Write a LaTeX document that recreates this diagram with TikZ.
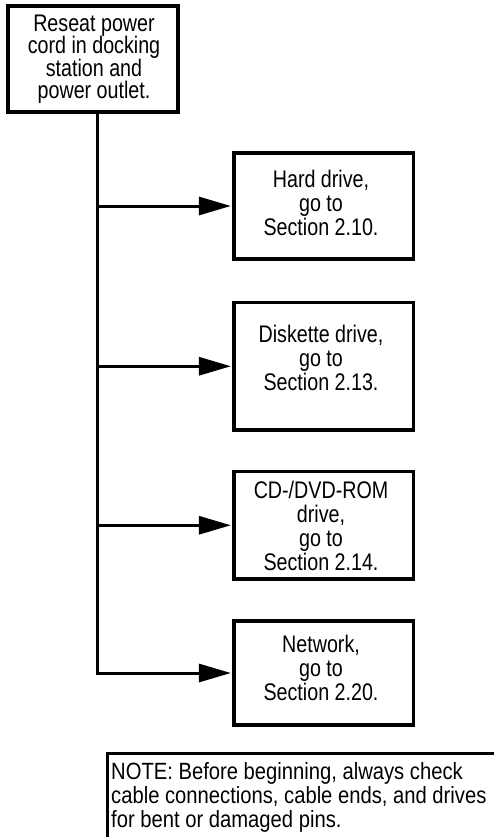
\documentclass[tikz,border=0pt]{standalone}
\usepackage{fontspec}
\setmainfont[FakeStretch=0.82]{Liberation Sans}
\newfontfamily\notefont[FakeStretch=0.86]{Liberation Sans}
\usetikzlibrary{arrows.meta}
\begin{document}
\begin{tikzpicture}[x=1pt,y=-1pt,
  box/.style={draw, line width=3.2pt, inner sep=0pt, minimum width=179.5pt},
  txt/.style={align=center, inner sep=0pt, anchor=north, font=\fontsize{24}{24}\selectfont},
  conn/.style={line width=3pt},
  arr/.style={line width=3pt, shorten >=1.5pt, -{Triangle[length=32pt,width=18pt]}}]
\useasboundingbox (0,0) rectangle (494,837);
\clip (0,0) rectangle (494,837);
% top box
\node[box, minimum width=170pt, minimum height=106pt] (start) at (93,59) {};
\node[txt, font=\fontsize{24}{22.4}\selectfont] (starttxt) at (94,14.5) {Reseat power\\cord in docking\\station and\\power outlet.};
% right boxes
\node[box, minimum height=106pt] (hd) at (323.75,206) {};
\node[txt] (hdtxt) at (321,169.5) {Hard drive,\\go to\\Section 2.10.};
\node[box, minimum height=127.5pt] (fd) at (323.75,366.25) {};
\node[txt] (fdtxt) at (321,325.2) {Diskette drive,\\go to\\Section 2.13.};
\node[box, minimum height=107.5pt] (cd) at (323.75,525.25) {};
\node[txt] (cdtxt) at (321,481.2) {CD-/DVD-ROM\\drive,\\go to\\Section 2.14.};
\node[box, minimum height=104pt] (net) at (323.75,673) {};
\node[txt] (nettxt) at (321,634.5) {Network,\\go to\\Section 2.20.};
% connectors
\coordinate (b1) at (97,206);
\coordinate (b2) at (97,366.25);
\coordinate (b3) at (97,525.25);
\coordinate (b4) at (97,673);
\draw[arr] (start.south -| b4) -- (b4) -- (net.west);
\draw[arr] (b1) -- (hd.west);
\draw[arr] (b2) -- (fd.west);
\draw[arr] (b3) -- (cd.west);
% note
\coordinate (nb) at (107,845);
\coordinate (nt) at (107,753);
\coordinate (nr) at (500,753);
\draw[conn] (nb) -- (nt) -- (nr);
\node[anchor=north west, align=left, inner sep=0pt, font=\notefont\fontsize{23.5}{24}\selectfont] (note) at (111,762) {NOTE: Before beginning, always check\\cable connections, cable ends, and drives\\for bent or damaged pins.};
\end{tikzpicture}
\end{document}
